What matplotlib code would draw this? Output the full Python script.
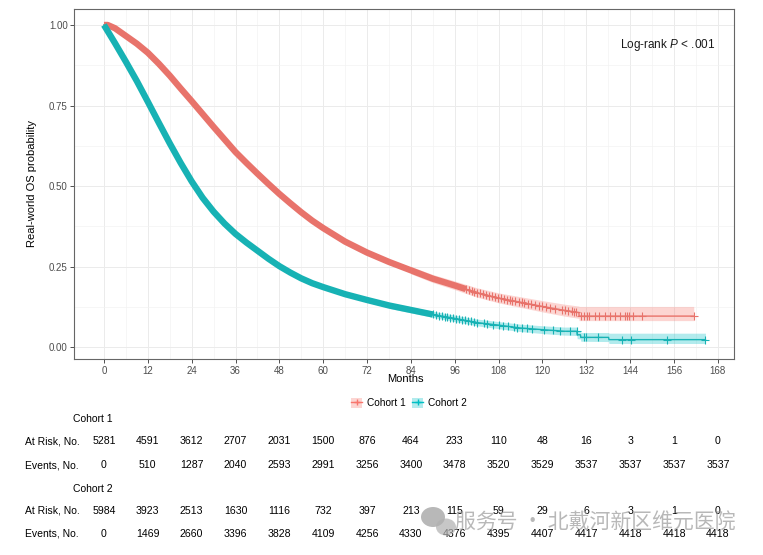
import numpy as np
import matplotlib.pyplot as plt
from matplotlib.lines import Line2D
from matplotlib.patches import Patch, Ellipse
from matplotlib.legend_handler import HandlerTuple
from matplotlib.transforms import blended_transform_factory

plt.rcParams['font.family'] = ['Liberation Sans', 'DejaVu Sans']
plt.rcParams['mathtext.fontset'] = 'custom'
plt.rcParams['mathtext.rm'] = 'Liberation Sans'
plt.rcParams['mathtext.it'] = 'Liberation Sans:italic'

# survival curves
months1 = [0, 1, 3, 6, 9, 12, 15, 18, 21, 24, 27, 30, 33, 36, 39, 42, 45, 48, 51, 54, 57, 60,
           66, 72, 78, 84, 90, 96, 102, 108, 114, 120, 126, 130, 130, 161.4]
surv1 = [1.0, 1.0, 0.99, 0.966, 0.942, 0.914, 0.88, 0.843, 0.803, 0.764, 0.724, 0.684, 0.645,
         0.606, 0.572, 0.539, 0.507, 0.476, 0.447, 0.419, 0.393, 0.37, 0.328, 0.294, 0.265,
         0.239, 0.213, 0.192, 0.170, 0.153, 0.140, 0.127, 0.115, 0.108, 0.097, 0.097]

months2 = [0, 3, 6, 9, 12, 15, 18, 21, 24, 27, 30, 33, 36, 39, 42, 45, 48, 51, 54, 57, 60,
           66, 72, 78, 84, 90, 96, 102, 108, 114, 120, 126, 129.4, 129.5, 130.4, 130.5, 138.1,
           138.2, 164.6]
surv2 = [1.0, 0.944, 0.886, 0.826, 0.762, 0.697, 0.633, 0.572, 0.515, 0.464, 0.421, 0.384,
         0.352, 0.325, 0.300, 0.275, 0.252, 0.232, 0.214, 0.199, 0.187, 0.165, 0.147, 0.130,
         0.116, 0.102, 0.09, 0.077, 0.069, 0.06, 0.055, 0.05, 0.05, 0.039, 0.039, 0.031,
         0.031, 0.024, 0.024]

# confidence bands (hidden under the dense marks earlier on)
band1_t = [84, 90, 96, 102, 108, 114, 120, 126, 130, 130, 161.4]
band1_lo = [0.228, 0.201, 0.179, 0.156, 0.138, 0.124, 0.110, 0.097, 0.090, 0.083, 0.083]
band1_hi = [0.251, 0.226, 0.206, 0.185, 0.169, 0.157, 0.145, 0.134, 0.128, 0.127, 0.127]

band2_t = [78, 84, 90, 96, 102, 108, 114, 120, 126, 129.4, 129.5, 130.4, 130.5, 138.1, 138.2,
           164.6]
band2_lo = [0.121, 0.107, 0.093, 0.080, 0.067, 0.058, 0.049, 0.043, 0.038, 0.037, 0.027, 0.026,
            0.019, 0.018, 0.012, 0.012]
band2_hi = [0.139, 0.126, 0.112, 0.100, 0.088, 0.080, 0.072, 0.067, 0.063, 0.063, 0.053, 0.052,
            0.046, 0.046, 0.044, 0.044]

# where the censoring marks are too dense to tell apart
dense1_end = 99
dense2_end = 90

# censoring marks that can still be told apart
cens1 = [99, 99.8, 100.6, 101.4, 102.2, 103, 103.8, 104.6, 105.4, 106.2, 107, 107.8, 108.6,
         109.4, 110.2, 111, 111.8, 112.6, 113.5, 114.3, 115, 116, 117, 118, 119, 120, 121, 122,
         123.5, 125.3, 126.2, 127.1, 128.1, 128.5, 129.2, 130.5, 131.3, 132.2, 132.6, 134.4,
         135.6, 137.2, 138.5, 139.9, 141.1, 142.7, 143.1, 143.6, 144.9, 147.2, 161.4]
cens2 = [90, 90.8, 91.6, 92.4, 93.2, 94, 94.8, 95.6, 96.4, 97.2, 98, 98.8, 99.6, 100.4, 101.2,
         102, 103.9, 104.8, 106.6, 108, 109.3, 110.7, 112.1, 113, 114.4, 115.7, 117.1, 120.3,
         123, 124.9, 127.6, 129.4, 131.3, 132.0, 135.1, 141.7, 144.3, 154.1, 164.6]

table_times = [0, 12, 24, 36, 48, 60, 72, 84, 96, 108, 120, 132, 144, 156, 168]
risk1 = [5281, 4591, 3612, 2707, 2031, 1500, 876, 464, 233, 110, 48, 16, 3, 1, 0]
events1 = [0, 510, 1287, 2040, 2593, 2991, 3256, 3400, 3478, 3520, 3529, 3537, 3537, 3537, 3537]
risk2 = [5984, 3923, 2513, 1630, 1116, 732, 397, 213, 115, 59, 29, 6, 3, 1, 0]
events2 = [0, 1469, 2660, 3396, 3828, 4109, 4256, 4330, 4376, 4395, 4407, 4417, 4418, 4418, 4418]

red = '#F8766D'
teal = '#00BFC4'
red_dark = '#E8736B'
teal_dark = '#17B2B4'

W, H = 763, 555
fig = plt.figure(figsize=(W / 100, H / 100), dpi=100)
ax = fig.add_axes([74 / W, 1 - 359.3 / H, (734.3 - 74) / W, (359.3 - 9) / H])

ax.set_xlim(-8.2, 172.5)
ax.set_ylim(-0.037, 1.0496)
ax.set_xticks(table_times)
ax.set_xticks(np.array(table_times[:-1]) + 6, minor=True)
ax.set_yticks([0, 0.25, 0.5, 0.75, 1.0])
ax.set_yticks([0.125, 0.375, 0.625, 0.875], minor=True)
ax.set_yticklabels(['0.00', '0.25', '0.50', '0.75', '1.00'])
ax.grid(which='major', color='#EBEBEB', lw=0.7)
ax.grid(which='minor', color='#F2F2F2', lw=0.45)
ax.set_axisbelow(True)
ax.tick_params(which='major', length=3, width=0.6, color='#333333', labelsize=7,
               labelcolor='#4D4D4D', pad=1.5)
ax.tick_params(which='minor', length=0)
for sp in ax.spines.values():
    sp.set_color('#666666')
    sp.set_linewidth(0.8)

for bt, lo, hi, col in [(band1_t, band1_lo, band1_hi, red), (band2_t, band2_lo, band2_hi, teal)]:
    ax.fill_between(bt, lo, hi, color=col, alpha=0.3, lw=0)

for m, s, dend, cens, dcol in [(months1, surv1, dense1_end, cens1, red_dark),
                               (months2, surv2, dense2_end, cens2, teal_dark)]:
    m = np.array(m)
    s = np.array(s)
    ax.plot(m, s, color=dcol, lw=1.0)
    keep = m <= dend
    mk = np.append(m[keep], dend)
    sk = np.append(s[keep], np.interp(dend, m, s))
    ax.plot(mk, sk, color=dcol, lw=4.6, solid_capstyle='butt', solid_joinstyle='round')
    ax.plot(cens, np.interp(cens, m, s), ls='none', marker='+', ms=5.5, mew=0.8, color=dcol)

ax.text(0.971, 0.897, 'Log-rank $P$ < .001', transform=ax.transAxes, ha='right', va='center',
        fontsize=8.5, color='#1A1A1A')

fig.text(405 / W, 1 - 379 / H, 'Months', ha='center', va='center', fontsize=8)
fig.text(32 / W, 1 - 184 / H, 'Real-world OS probability', ha='center', va='center',
         rotation=90, fontsize=8)

# legend
h1 = (Patch(color=red, alpha=0.3, lw=0), Line2D([], [], color=red, marker='+', ms=5, lw=1))
h2 = (Patch(color=teal, alpha=0.3, lw=0), Line2D([], [], color=teal, marker='+', ms=5, lw=1))
fig.legend([h1, h2], ['Cohort 1', 'Cohort 2'], handler_map={tuple: HandlerTuple(ndivide=1)},
           loc='center', bbox_to_anchor=(409 / W, 1 - 403 / H), ncol=2, frameon=False,
           fontsize=7.3, handlelength=1.1, handleheight=1.1, handletextpad=0.5,
           columnspacing=0.6)

# risk table
tr = blended_transform_factory(ax.transData, fig.transFigure)
rows = [(419, 'Cohort 1', None), (441.5, 'At Risk, No.', risk1), (465, 'Events, No.', events1),
        (488.5, 'Cohort 2', None), (510.5, 'At Risk, No.', risk2), (534, 'Events, No.', events2)]
for py, label, vals in rows:
    yf = 1 - py / H
    if vals is None:
        fig.text(73 / W, yf, label, ha='left', va='center', fontsize=7.5)
    else:
        fig.text(25 / W, yf, label, ha='left', va='center', fontsize=7.5)
        for t, v in zip(table_times, vals):
            ax.text(t, yf, str(v), transform=tr, ha='center', va='center', fontsize=7.6)

# watermark
fig.patches.append(Ellipse((433 / W, 1 - 517 / H), 24 / W, 20 / H, transform=fig.transFigure,
                           color='#9A9A9A', alpha=0.7, lw=0))
fig.patches.append(Ellipse((446 / W, 1 - 527 / H), 20 / W, 17 / H, transform=fig.transFigure,
                           color='#B0B0B0', alpha=0.7, lw=0))
fig.text(455 / W, 1 - 523 / H, '服务号 · 北戴河新区维元医院', ha='left', va='center',
         fontsize=15, color='#9A9A9A', alpha=0.7,
         family=['Noto Sans CJK SC', 'DejaVu Sans'])

fig.savefig('out.png', dpi=100)
